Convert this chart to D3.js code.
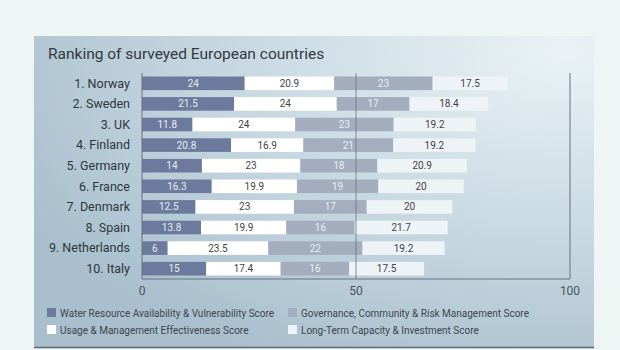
<!DOCTYPE html>
<html>
<head>
<meta charset="utf-8">
<script src="https://cdn.jsdelivr.net/npm/d3@7"></script>
<style>
  body { margin: 0; background: #eef5f5; }
  svg { display: block; font-family: "Roboto", "Liberation Sans", sans-serif; }
</style>
</head>
<body>
<div id="chart"></div>
<script>
// data
const countries = ["1. Norway", "2. Sweden", "3. UK", "4. Finland", "5. Germany",
                   "6. France", "7. Denmark", "8. Spain", "9. Netherlands", "10. Italy"];
const waterScores = [24, 21.5, 11.8, 20.8, 14, 16.3, 12.5, 13.8, 6, 15];
const usageScores = [20.9, 24, 24, 16.9, 23, 19.9, 23, 19.9, 23.5, 17.4];
const governanceScores = [23, 17, 23, 21, 18, 19, 17, 16, 22, 16];
const longTermScores = [17.5, 18.4, 19.2, 19.2, 20.9, 20, 20, 21.7, 19.2, 17.5];
const seriesNames = ["Water Resource Availability & Vulnerability Score",
                     "Usage & Management Effectiveness Score",
                     "Governance, Community & Risk Management Score",
                     "Long-Term Capacity & Investment Score"];
const tickValues = [0, 50, 100];

const colors = ["#6c7b9d", "#ffffff", "#a4adbe", "#eef3f7"];
const textColors = ["#e8ecf4", "#444", "#e9edf3", "#444"];

const width = 620, height = 350;

const svg = d3.select("#chart").append("svg")
    .attr("width", width)
    .attr("height", height);

// panel background
const defs = svg.append("defs");
const grad = defs.append("radialGradient")
    .attr("id", "panelGrad")
    .attr("cx", "0.95").attr("cy", "0.05").attr("r", "1.1");
grad.append("stop").attr("offset", "0%").attr("stop-color", "#eaf2f5");
grad.append("stop").attr("offset", "45%").attr("stop-color", "#cddde5");
grad.append("stop").attr("offset", "100%").attr("stop-color", "#a9bfcd");

svg.append("rect")
    .attr("x", 34).attr("y", 36)
    .attr("width", 560).attr("height", 312)
    .attr("fill", "url(#panelGrad)");
svg.append("line")
    .attr("x1", 34).attr("x2", 594)
    .attr("y1", 347.5).attr("y2", 347.5)
    .attr("stroke", "#5d6b78").attr("stroke-width", 1.5);

svg.append("text")
    .attr("x", 48).attr("y", 59)
    .attr("font-size", 15.5)
    .attr("fill", "#333a40")
    .text("Ranking of surveyed European countries");

// scales
const x = d3.scaleLinear().domain([0, 100]).range([142, 570]);
const y = d3.scaleBand().domain(countries).range([73, 279]).paddingInner(0.34).paddingOuter(0.17);

// stack
const rows = countries.map((c, i) => ({
    country: c,
    s0: waterScores[i], s1: usageScores[i], s2: governanceScores[i], s3: longTermScores[i]
}));
const stack = d3.stack().keys(["s0", "s1", "s2", "s3"]);
const series = stack(rows);

const g = svg.append("g");
series.forEach((s, k) => {
    const grp = g.append("g");
    grp.selectAll("rect")
        .data(s)
        .join("rect")
        .attr("x", d => x(d[0]))
        .attr("y", d => y(d.data.country))
        .attr("width", d => x(d[1]) - x(d[0]))
        .attr("height", y.bandwidth())
        .attr("fill", colors[k]);
    grp.selectAll("text")
        .data(s)
        .join("text")
        .attr("x", d => (x(d[0]) + x(d[1])) / 2)
        .attr("y", d => y(d.data.country) + y.bandwidth() / 2)
        .attr("dy", "0.35em")
        .attr("text-anchor", "middle")
        .attr("font-size", 10)
        .attr("fill", textColors[k])
        .text(d => d.data["s" + k]);
});

// frame lines and gridline at 50
const frame = svg.append("g").attr("stroke", "#66737f").attr("fill", "none");
frame.append("line")
    .attr("x1", x(0)).attr("x2", x(0)).attr("y1", 73).attr("y2", 279);
frame.append("line")
    .attr("x1", x(100)).attr("x2", x(100)).attr("y1", 73).attr("y2", 279);
frame.append("line")
    .attr("x1", x(0)).attr("x2", x(100)).attr("y1", 279).attr("y2", 279);
frame.append("line")
    .attr("x1", x(50)).attr("x2", x(50)).attr("y1", 73).attr("y2", 279)
    .attr("stroke-opacity", 0.8);

// x tick labels
svg.append("g").selectAll("text")
    .data(tickValues)
    .join("text")
    .attr("x", d => x(d))
    .attr("y", 295)
    .attr("text-anchor", "middle")
    .attr("font-size", 12)
    .attr("fill", "#4a535c")
    .text(d => d);

// country labels
svg.append("g").selectAll("text")
    .data(countries)
    .join("text")
    .attr("x", 130)
    .attr("y", d => y(d) + y.bandwidth() / 2)
    .attr("dy", "0.35em")
    .attr("text-anchor", "end")
    .attr("font-size", 12.5)
    .attr("fill", "#2f363d")
    .text(d => d);

// legend
const legendPos = [[47, 313], [47, 330], [288, 313], [288, 330]];
const legend = svg.append("g").selectAll("g")
    .data(seriesNames)
    .join("g")
    .attr("transform", (d, i) => "translate(" + legendPos[i][0] + "," + legendPos[i][1] + ")");
legend.append("rect")
    .attr("x", 0).attr("y", -5)
    .attr("width", 9).attr("height", 9)
    .attr("fill", (d, i) => colors[i]);
legend.append("text")
    .attr("x", 13).attr("y", 0)
    .attr("dy", "0.35em")
    .attr("font-size", 10)
    .attr("fill", "#3e464e")
    .text(d => d);
</script>
</body>
</html>
